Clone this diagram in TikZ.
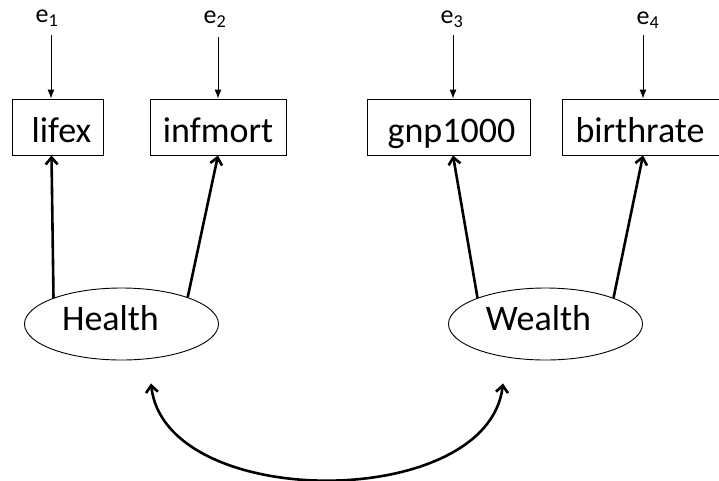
\documentclass[tikz,border=0pt]{standalone}
\usepackage{fontspec}
\setmainfont{Carlito}
\usetikzlibrary{arrows.meta,shapes.geometric}
\begin{document}
\begin{tikzpicture}[x=1pt,y=-1pt,
  obsbox/.style={draw,line width=0.9pt,rectangle,minimum height=56pt,inner sep=0pt,
    text height=30pt,text depth=0pt,font=\fontsize{36}{42}\selectfont},
  latent/.style={draw,line width=0.9pt,ellipse,minimum width=194pt,minimum height=72pt,
    inner sep=0pt,text height=20pt,text depth=8pt,font=\fontsize{36}{42}\selectfont},
  errlabel/.style={inner sep=0pt,font=\fontsize{26}{30}\selectfont},
  errarrow/.style={line width=0.9pt,-{Latex[length=9pt,width=7pt]}},
  loading/.style={line width=2.6pt,-{Straight Barb[length=7pt,width=12pt]}},
  covar/.style={line width=2.6pt,
    {Straight Barb[length=7pt,width=12pt]}-{Straight Barb[length=7pt,width=12pt]}}]
\useasboundingbox (0,0) rectangle (719,480);

% observed indicators
\node[obsbox,minimum width=91pt]  (lifex)     at (57.5,127) {\kern8pt lifex};
\node[obsbox,minimum width=136pt] (infmort)   at (218,127)  {infmort};
\node[obsbox,minimum width=163pt] (gnp1000)   at (448.5,127){\kern6pt gnp1000};
\node[obsbox,minimum width=164pt] (birthrate) at (644,127)  {birthrate\kern8pt};

% latent factors
\node[latent] (Health) at (121.5,324) {Health\kern22pt};
\node[latent] (Wealth) at (545.5,324) {Wealth\kern14pt};

% error terms
\node[errlabel] (e1) at (47,18)  {e\textsubscript{1}};
\node[errlabel] (e2) at (215,19) {e\textsubscript{2}};
\node[errlabel] (e3) at (452,19) {e\textsubscript{3}};
\node[errlabel] (e4) at (648,20) {e\textsubscript{4}};

\coordinate (s1) at (51,35);
\coordinate (s2) at (218,37);
\coordinate (s3) at (453,35);
\coordinate (s4) at (643,35);

\draw[errarrow] (s1) -- (s1 |- lifex.north);
\draw[errarrow] (s2) -- (s2 |- infmort.north);
\draw[errarrow] (s3) -- (s3 |- gnp1000.north);
\draw[errarrow] (s4) -- (s4 |- birthrate.north);

% factor loadings
\draw[loading] (Health.159) -- ([xshift=-6pt]lifex.south);
\draw[loading] (Health.22)  -- (infmort.south);
\draw[loading] (Wealth.159) -- ([xshift=4.5pt]gnp1000.south);
\draw[loading] (Wealth.21)  -- ([xshift=-1pt]birthrate.south);

% factor covariance
\coordinate (hc) at ([xshift=29.5pt,yshift=-23pt]Health.south);
\coordinate (wc) at ([xshift=-42.5pt,yshift=-23pt]Wealth.south);
\draw[covar] (hc) .. controls (165,512) and (488,512) .. (wc);
\end{tikzpicture}
\end{document}
